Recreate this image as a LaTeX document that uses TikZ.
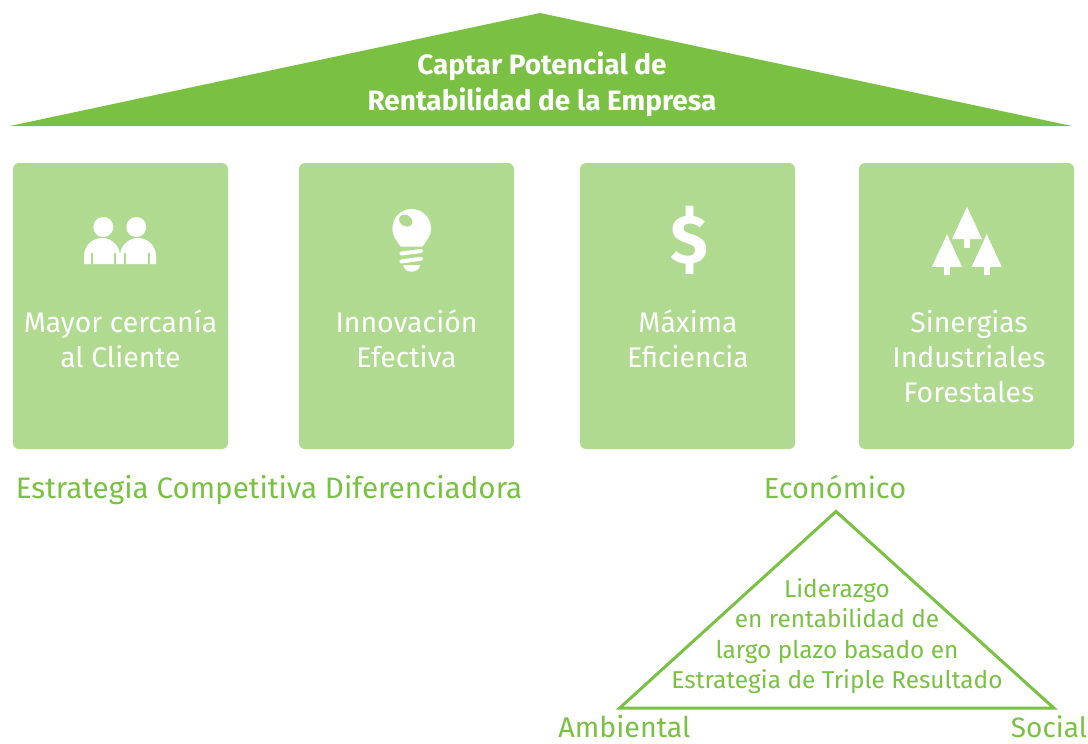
\documentclass[tikz,border=0pt]{standalone}
\usepackage{fontspec}
\setmainfont{Fira Sans}
\definecolor{verde}{HTML}{7AC143}
\definecolor{verdeclaro}{HTML}{B0DA90}
\tikzset{
  caja/.style={fill=verdeclaro, rounded corners=6pt},
  textocaja/.style={text=white, align=center, font=\fontsize{28.4}{35}\selectfont},
  etiqueta/.style={text=verde, inner sep=0pt, font=\fontsize{29}{35}\selectfont},
  lema/.style={text=verde, align=center, font=\fontsize{24.4}{30.3}\selectfont},
}
\begin{document}
\begin{tikzpicture}[x=1pt, y=-1pt]
    \useasboundingbox (0,0) rectangle (1088,744);
    % Definir medidas de las cajas
    \def\w{215} % ancho
    \def\t{163} % arriba
    \def\b{449} % abajo

    % Techo con el titulo
    \fill[verde] (10,126) -- (540,13) -- (1072,126) -- cycle;
    \node[text=white, align=center, font=\fontsize{28}{36}\selectfont\bfseries] (titulo) at (542,84) {Captar Potencial de\\Rentabilidad de la Empresa};

    % Dibujar las cuatro cajas
    \foreach \x in {13,299,580,859}
        \fill[caja] (\x,\t) rectangle (\x+\w,\b);

    % Textos de las cajas
    \node[textocaja] (cercania) at (120.5,339) {Mayor cercanía\\al Cliente};
    \node[textocaja] (innovacion) at (406.5,339) {Innovación\\Efectiva};
    \node[textocaja] (eficiencia) at (688,339) {Máxima\\Eficiencia};
    \node[textocaja] (sinergias) at (969,356.5) {Sinergias\\Industriales\\Forestales};

    % Icono de las personas
    \begin{scope}[white]
        \fill (103.3,227) circle (10);
        \fill (136.3,227) circle (10);
        \fill (84,264) -- (84,256) arc (180:360:18) -- (120,264) -- cycle;
        \fill (120,264) -- (120,256) arc (180:360:18) -- (156,264) -- cycle;
        \foreach \x in {91.5,115,124.5,148.5}
            \fill[verdeclaro] (\x-1,252.5) rectangle (\x+1,264);
    \end{scope}

    % Icono de la ampolleta
    \begin{scope}[white]
        \fill (400.5,246.5) .. controls (396,240) and (392.4,236) .. (392.4,228.3) arc (180:360:19.3) .. controls (431,236) and (427,240) .. (422.5,246.5) -- cycle;
        \fill[verdeclaro, rotate around={-30:(405.7,220.7)}] (405.7,220.7) ellipse (7 and 5.5);
        \draw[line width=4, line cap=round] (401.5,253.5) -- (421,251);
        \draw[line width=4, line cap=round] (401.5,261.5) -- (421,258.7);
        \fill (403.3,265) -- (420,265) arc (0:180:8.35 and 6.7) -- cycle;
    \end{scope}

    % Icono del dinero
    \node[text=white, font=\fontsize{69}{69}\selectfont\bfseries] (dinero) at (689,240) {\$};

    % Icono de los arboles
    \foreach \x/\y in {967/206.7,947/234.3,986.7/234.3} {
        \fill[white] (\x,\y) -- (\x+15,\y+32.5) -- (\x-15,\y+32.5) -- cycle;
        \fill[white] (\x-3,\y+32) rectangle (\x+3,\y+41);
    }

    % Etiquetas bajo las cajas
    \node[etiqueta, anchor=base, font=\fontsize{29.6}{35}\selectfont] (estrategia) at (269,498) {Estrategia Competitiva Diferenciadora};
    \node[etiqueta, anchor=base] (economico) at (835,498) {Económico};
    \node[etiqueta, anchor=base, font=\fontsize{28.6}{35}\selectfont] (ambiental) at (624.5,737.5) {Ambiental};
    \node[etiqueta, anchor=base, font=\fontsize{28}{35}\selectfont] (social) at (1049,737.5) {Social};

    % Triangulo inferior
    \draw[verde, line width=3, line join=miter] (836,511.5) -- (1053.8,708) -- (619.7,708) -- cycle;
    \node[lema] (liderazgo) at (837,636) {Liderazgo\\en rentabilidad de\\largo plazo basado en\\Estrategia de Triple Resultado};
\end{tikzpicture}
\end{document}
